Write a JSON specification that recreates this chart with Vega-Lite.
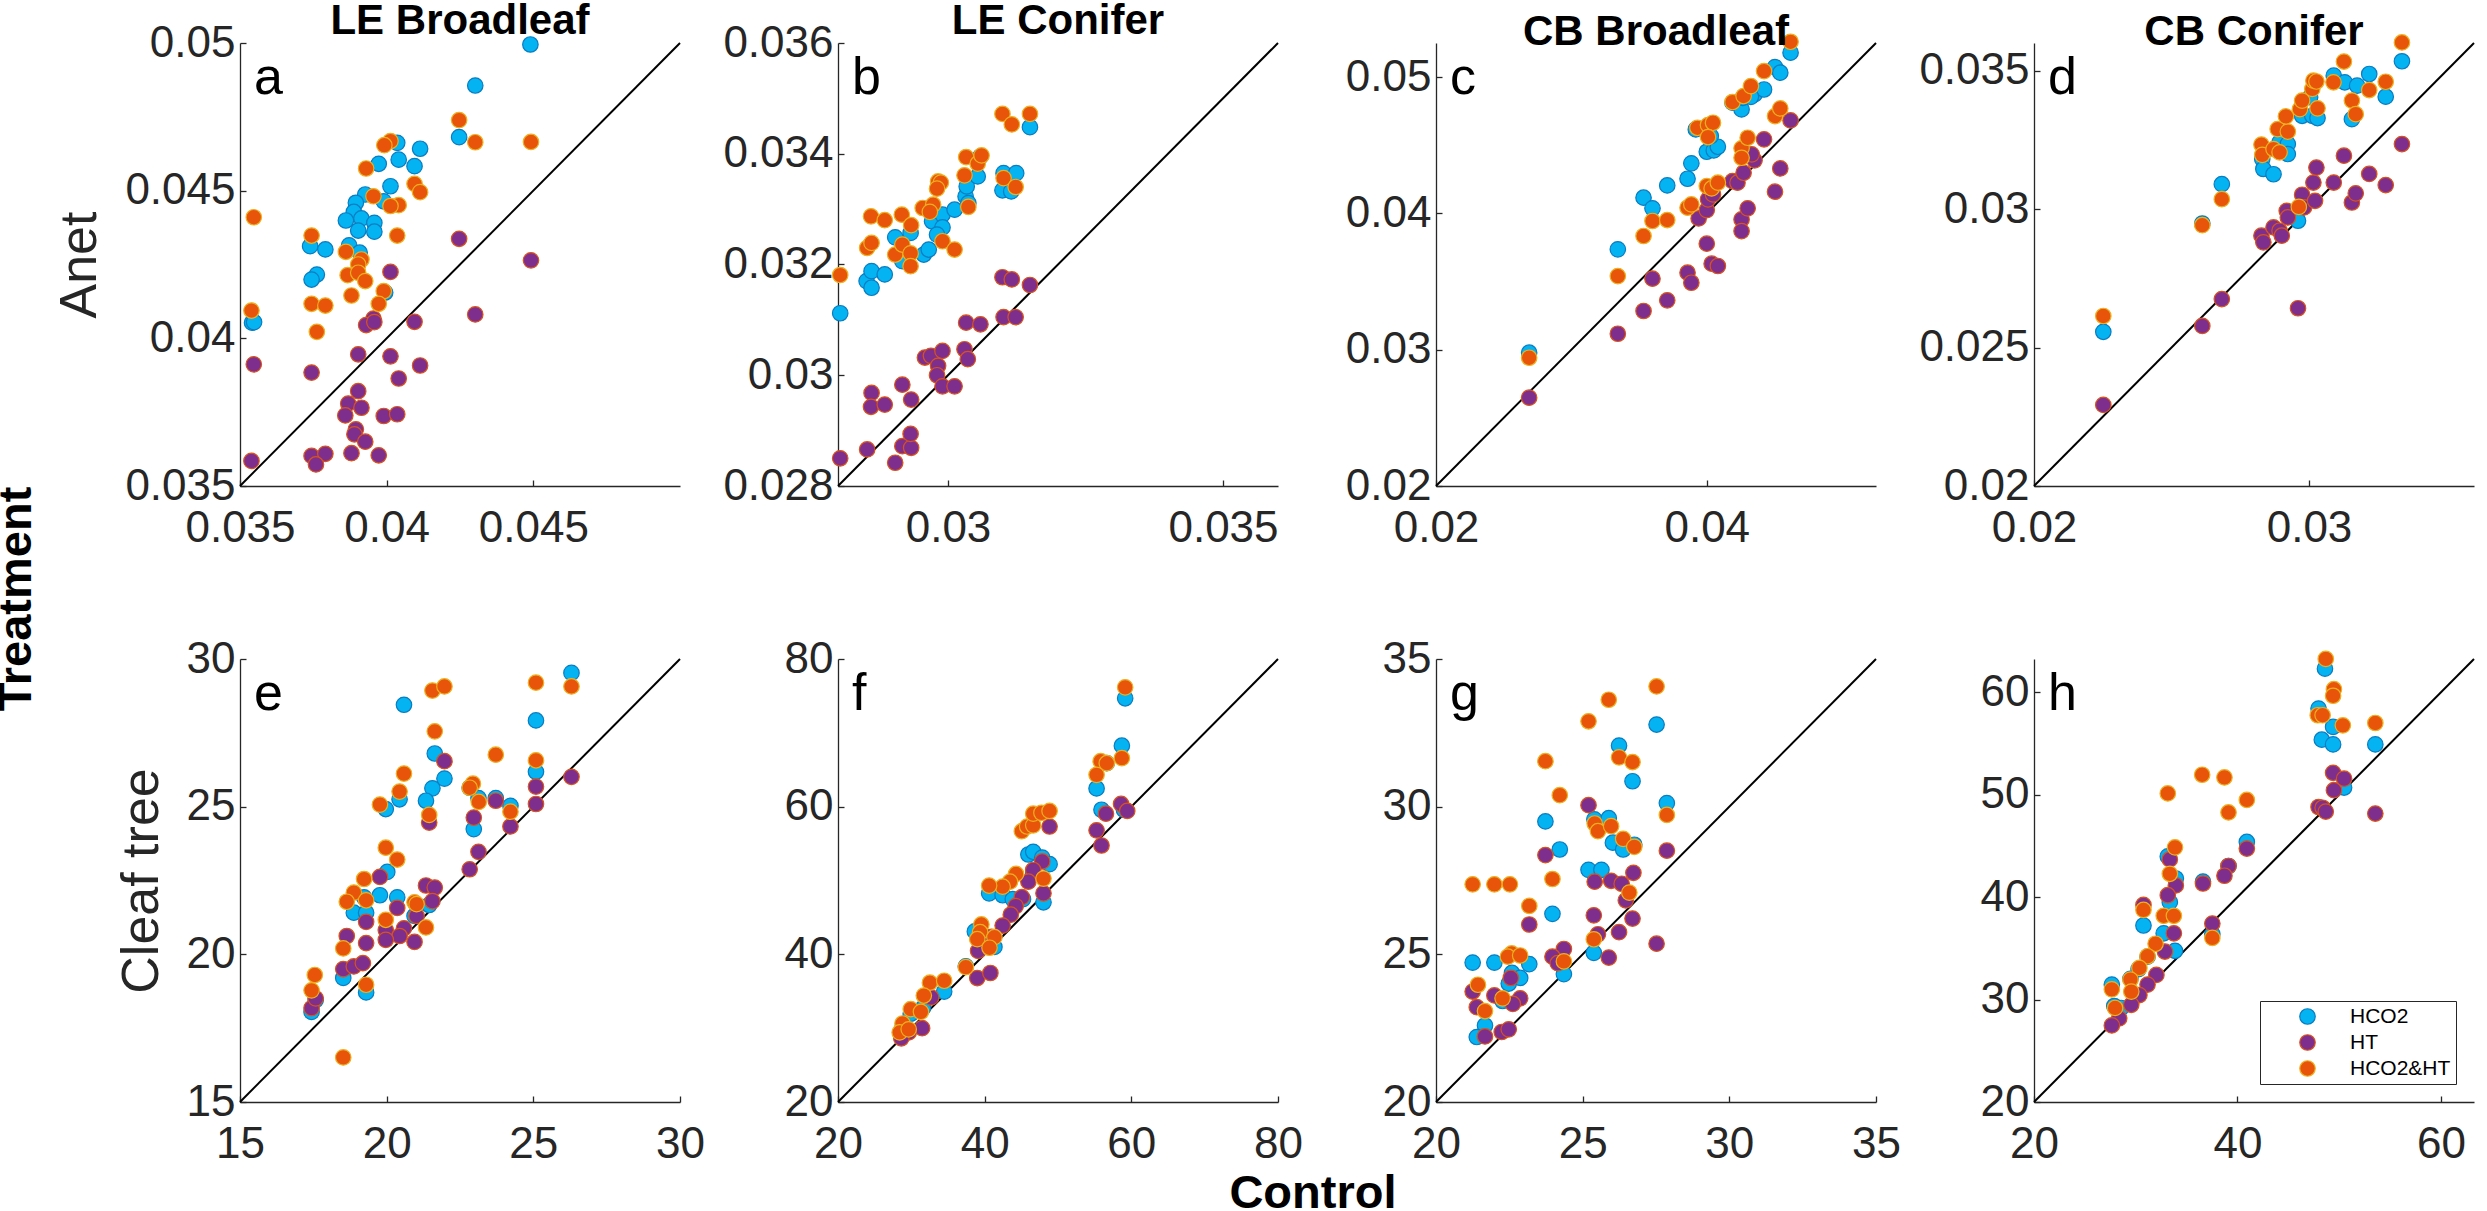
{
"$schema":"https://vega.github.io/schema/vega-lite/v6.json",
"background":"white",
"padding":{"left":-8,"top":0,"right":0,"bottom":0},
"config":{
 "view":{"stroke":null},
 "font":"Liberation Sans",
 "axis":{"grid":false,"domainColor":"#262626","domainWidth":1.3,"tickColor":"#262626","tickWidth":1.3,"tickSize":-6,"labelColor":"#262626","labelFontSize":44,"labelFlush":false,"labelOverlap":false,"labelBound":false,"titleFontSize":52,"titleFontWeight":"normal","titleColor":"#262626","titlePadding":18,"labelExpr":"'' + datum.value"},
 "axisY":{"labelPadding":11},
 "axisX":{"labelPadding":26},
 "title":{"fontSize":42,"fontWeight":"bold","color":"black","offset":-22,"frame":"group","font":"Liberation Sans"}
},
"datasets":{"pts":[
{"p":"a","g":"HCO2","x":0.0449,"y":0.04995},{"p":"a","g":"HCO2","x":0.04302,"y":0.04856},{"p":"a","g":"HCO2","x":0.04247,"y":0.04681},{"p":"a","g":"HCO2","x":0.04114,"y":0.04642},{"p":"a","g":"HCO2","x":0.04036,"y":0.04662},{"p":"a","g":"HCO2","x":0.04041,"y":0.04605},{"p":"a","g":"HCO2","x":0.04095,"y":0.04583},{"p":"a","g":"HCO2","x":0.03973,"y":0.04591},{"p":"a","g":"HCO2","x":0.04013,"y":0.04515},{"p":"a","g":"HCO2","x":0.0399,"y":0.04464},{"p":"a","g":"HCO2","x":0.03927,"y":0.04487},{"p":"a","g":"HCO2","x":0.03895,"y":0.04459},{"p":"a","g":"HCO2","x":0.03888,"y":0.04428},{"p":"a","g":"HCO2","x":0.03914,"y":0.04406},{"p":"a","g":"HCO2","x":0.03861,"y":0.04399},{"p":"a","g":"HCO2","x":0.03958,"y":0.04391},{"p":"a","g":"HCO2","x":0.03903,"y":0.04365},{"p":"a","g":"HCO2","x":0.03958,"y":0.04361},{"p":"a","g":"HCO2","x":0.03872,"y":0.04315},{"p":"a","g":"HCO2","x":0.03908,"y":0.0429},{"p":"a","g":"HCO2","x":0.03739,"y":0.04312},{"p":"a","g":"HCO2","x":0.03791,"y":0.04301},{"p":"a","g":"HCO2","x":0.03762,"y":0.04216},{"p":"a","g":"HCO2","x":0.03744,"y":0.04199},{"p":"a","g":"HCO2","x":0.03541,"y":0.04053},{"p":"a","g":"HCO2","x":0.03548,"y":0.04055},{"p":"a","g":"HCO2","x":0.03995,"y":0.04155},
{"p":"a","g":"HT","x":0.04247,"y":0.04337},{"p":"a","g":"HT","x":0.04492,"y":0.04264},{"p":"a","g":"HT","x":0.04013,"y":0.04225},{"p":"a","g":"HT","x":0.04302,"y":0.04081},{"p":"a","g":"HT","x":0.04095,"y":0.04056},{"p":"a","g":"HT","x":0.03955,"y":0.04067},{"p":"a","g":"HT","x":0.0393,"y":0.04045},{"p":"a","g":"HT","x":0.03958,"y":0.04055},{"p":"a","g":"HT","x":0.03903,"y":0.03946},{"p":"a","g":"HT","x":0.04013,"y":0.03939},{"p":"a","g":"HT","x":0.03547,"y":0.03912},{"p":"a","g":"HT","x":0.04114,"y":0.03908},{"p":"a","g":"HT","x":0.03744,"y":0.03884},{"p":"a","g":"HT","x":0.04041,"y":0.03864},{"p":"a","g":"HT","x":0.03903,"y":0.03821},{"p":"a","g":"HT","x":0.03869,"y":0.03779},{"p":"a","g":"HT","x":0.03914,"y":0.03765},{"p":"a","g":"HT","x":0.03859,"y":0.03739},{"p":"a","g":"HT","x":0.0399,"y":0.03737},{"p":"a","g":"HT","x":0.04036,"y":0.03743},{"p":"a","g":"HT","x":0.03895,"y":0.03692},{"p":"a","g":"HT","x":0.0389,"y":0.03675},{"p":"a","g":"HT","x":0.03927,"y":0.0365},{"p":"a","g":"HT","x":0.03539,"y":0.03585},{"p":"a","g":"HT","x":0.03744,"y":0.03602},{"p":"a","g":"HT","x":0.03791,"y":0.03609},{"p":"a","g":"HT","x":0.03759,"y":0.03573},{"p":"a","g":"HT","x":0.0388,"y":0.03611},{"p":"a","g":"HT","x":0.03973,"y":0.03604},
{"p":"a","g":"HCO2&HT","x":0.04247,"y":0.04739},{"p":"a","g":"HCO2&HT","x":0.04302,"y":0.04664},{"p":"a","g":"HCO2&HT","x":0.04492,"y":0.04665},{"p":"a","g":"HCO2&HT","x":0.04013,"y":0.04668},{"p":"a","g":"HCO2&HT","x":0.03992,"y":0.04654},{"p":"a","g":"HCO2&HT","x":0.0393,"y":0.04575},{"p":"a","g":"HCO2&HT","x":0.04095,"y":0.04523},{"p":"a","g":"HCO2&HT","x":0.04114,"y":0.04495},{"p":"a","g":"HCO2&HT","x":0.03955,"y":0.04481},{"p":"a","g":"HCO2&HT","x":0.04041,"y":0.04451},{"p":"a","g":"HCO2&HT","x":0.04013,"y":0.04448},{"p":"a","g":"HCO2&HT","x":0.03547,"y":0.0441},{"p":"a","g":"HCO2&HT","x":0.04036,"y":0.04348},{"p":"a","g":"HCO2&HT","x":0.03744,"y":0.04348},{"p":"a","g":"HCO2&HT","x":0.03861,"y":0.04293},{"p":"a","g":"HCO2&HT","x":0.03914,"y":0.04267},{"p":"a","g":"HCO2&HT","x":0.03903,"y":0.0425},{"p":"a","g":"HCO2&HT","x":0.03867,"y":0.04214},{"p":"a","g":"HCO2&HT","x":0.03903,"y":0.04222},{"p":"a","g":"HCO2&HT","x":0.03927,"y":0.04194},{"p":"a","g":"HCO2&HT","x":0.0399,"y":0.0416},{"p":"a","g":"HCO2&HT","x":0.0388,"y":0.04145},{"p":"a","g":"HCO2&HT","x":0.03973,"y":0.04117},{"p":"a","g":"HCO2&HT","x":0.03744,"y":0.04117},{"p":"a","g":"HCO2&HT","x":0.03791,"y":0.04111},{"p":"a","g":"HCO2&HT","x":0.03539,"y":0.04094},{"p":"a","g":"HCO2&HT","x":0.03762,"y":0.04022},
{"p":"b","g":"HCO2","x":0.02804,"y":0.03112},{"p":"b","g":"HCO2","x":0.02852,"y":0.0317},{"p":"b","g":"HCO2","x":0.02861,"y":0.03158},{"p":"b","g":"HCO2","x":0.02861,"y":0.03188},{"p":"b","g":"HCO2","x":0.02885,"y":0.03182},{"p":"b","g":"HCO2","x":0.02904,"y":0.03249},{"p":"b","g":"HCO2","x":0.02917,"y":0.03206},{"p":"b","g":"HCO2","x":0.02932,"y":0.03257},{"p":"b","g":"HCO2","x":0.02956,"y":0.03218},{"p":"b","g":"HCO2","x":0.02965,"y":0.03227},{"p":"b","g":"HCO2","x":0.02971,"y":0.03278},{"p":"b","g":"HCO2","x":0.0299,"y":0.0329},{"p":"b","g":"HCO2","x":0.0299,"y":0.03267},{"p":"b","g":"HCO2","x":0.0298,"y":0.03254},{"p":"b","g":"HCO2","x":0.03012,"y":0.03299},{"p":"b","g":"HCO2","x":0.03032,"y":0.03323},{"p":"b","g":"HCO2","x":0.03034,"y":0.03341},{"p":"b","g":"HCO2","x":0.03037,"y":0.03311},{"p":"b","g":"HCO2","x":0.03054,"y":0.03359},{"p":"b","g":"HCO2","x":0.03059,"y":0.03395},{"p":"b","g":"HCO2","x":0.03101,"y":0.03365},{"p":"b","g":"HCO2","x":0.03099,"y":0.03334},{"p":"b","g":"HCO2","x":0.03115,"y":0.03332},{"p":"b","g":"HCO2","x":0.03124,"y":0.03365},{"p":"b","g":"HCO2","x":0.03149,"y":0.03448},
{"p":"b","g":"HT","x":0.02804,"y":0.0285},{"p":"b","g":"HT","x":0.02853,"y":0.02866},{"p":"b","g":"HT","x":0.02904,"y":0.02842},{"p":"b","g":"HT","x":0.02917,"y":0.02872},{"p":"b","g":"HT","x":0.02933,"y":0.02869},{"p":"b","g":"HT","x":0.02932,"y":0.02894},{"p":"b","g":"HT","x":0.02861,"y":0.02968},{"p":"b","g":"HT","x":0.0286,"y":0.02943},{"p":"b","g":"HT","x":0.02885,"y":0.02947},{"p":"b","g":"HT","x":0.02917,"y":0.02983},{"p":"b","g":"HT","x":0.02933,"y":0.02956},{"p":"b","g":"HT","x":0.02958,"y":0.03032},{"p":"b","g":"HT","x":0.02969,"y":0.03035},{"p":"b","g":"HT","x":0.0299,"y":0.03044},{"p":"b","g":"HT","x":0.02982,"y":0.03017},{"p":"b","g":"HT","x":0.0298,"y":0.03},{"p":"b","g":"HT","x":0.0299,"y":0.0298},{"p":"b","g":"HT","x":0.03012,"y":0.0298},{"p":"b","g":"HT","x":0.0303,"y":0.03047},{"p":"b","g":"HT","x":0.03036,"y":0.03029},{"p":"b","g":"HT","x":0.03033,"y":0.03095},{"p":"b","g":"HT","x":0.03059,"y":0.03092},{"p":"b","g":"HT","x":0.03101,"y":0.03105},{"p":"b","g":"HT","x":0.03123,"y":0.03105},{"p":"b","g":"HT","x":0.03099,"y":0.03177},{"p":"b","g":"HT","x":0.03116,"y":0.03173},{"p":"b","g":"HT","x":0.03149,"y":0.03163},
{"p":"b","g":"HCO2&HT","x":0.02804,"y":0.03181},{"p":"b","g":"HCO2&HT","x":0.0286,"y":0.03287},{"p":"b","g":"HCO2&HT","x":0.02885,"y":0.0328},{"p":"b","g":"HCO2&HT","x":0.02916,"y":0.0329},{"p":"b","g":"HCO2&HT","x":0.02933,"y":0.03271},{"p":"b","g":"HCO2&HT","x":0.02853,"y":0.0323},{"p":"b","g":"HCO2&HT","x":0.02861,"y":0.03239},{"p":"b","g":"HCO2&HT","x":0.02904,"y":0.03218},{"p":"b","g":"HCO2&HT","x":0.02917,"y":0.03236},{"p":"b","g":"HCO2&HT","x":0.02932,"y":0.0322},{"p":"b","g":"HCO2&HT","x":0.02932,"y":0.03197},{"p":"b","g":"HCO2&HT","x":0.02954,"y":0.03302},{"p":"b","g":"HCO2&HT","x":0.02973,"y":0.03308},{"p":"b","g":"HCO2&HT","x":0.02967,"y":0.03295},{"p":"b","g":"HCO2&HT","x":0.02982,"y":0.0335},{"p":"b","g":"HCO2&HT","x":0.02987,"y":0.03348},{"p":"b","g":"HCO2&HT","x":0.0298,"y":0.03337},{"p":"b","g":"HCO2&HT","x":0.0299,"y":0.03242},{"p":"b","g":"HCO2&HT","x":0.03012,"y":0.03227},{"p":"b","g":"HCO2&HT","x":0.0303,"y":0.03361},{"p":"b","g":"HCO2&HT","x":0.03033,"y":0.03394},{"p":"b","g":"HCO2&HT","x":0.03054,"y":0.03382},{"p":"b","g":"HCO2&HT","x":0.03061,"y":0.03397},{"p":"b","g":"HCO2&HT","x":0.03037,"y":0.03304},{"p":"b","g":"HCO2&HT","x":0.03101,"y":0.03356},{"p":"b","g":"HCO2&HT","x":0.03123,"y":0.0334},{"p":"b","g":"HCO2&HT","x":0.03099,"y":0.03472},{"p":"b","g":"HCO2&HT","x":0.03116,"y":0.03453},{"p":"b","g":"HCO2&HT","x":0.03149,"y":0.03472},
{"p":"c","g":"HCO2","x":0.02688,"y":0.02978},{"p":"c","g":"HCO2","x":0.03343,"y":0.03736},{"p":"c","g":"HCO2","x":0.03533,"y":0.04115},{"p":"c","g":"HCO2","x":0.03599,"y":0.04037},{"p":"c","g":"HCO2","x":0.03708,"y":0.04205},{"p":"c","g":"HCO2","x":0.03858,"y":0.04254},{"p":"c","g":"HCO2","x":0.03886,"y":0.04367},{"p":"c","g":"HCO2","x":0.04,"y":0.04452},{"p":"c","g":"HCO2","x":0.04052,"y":0.04462},{"p":"c","g":"HCO2","x":0.04082,"y":0.04489},{"p":"c","g":"HCO2","x":0.0403,"y":0.04567},{"p":"c","g":"HCO2","x":0.03919,"y":0.04616},{"p":"c","g":"HCO2","x":0.0419,"y":0.04812},{"p":"c","g":"HCO2","x":0.04257,"y":0.04763},{"p":"c","g":"HCO2","x":0.04266,"y":0.04848},{"p":"c","g":"HCO2","x":0.04353,"y":0.04873},{"p":"c","g":"HCO2","x":0.04423,"y":0.04909},{"p":"c","g":"HCO2","x":0.04504,"y":0.05073},{"p":"c","g":"HCO2","x":0.04543,"y":0.05032},{"p":"c","g":"HCO2","x":0.04619,"y":0.05179},{"p":"c","g":"HCO2","x":0.04326,"y":0.04855},
{"p":"c","g":"HT","x":0.02688,"y":0.02648},{"p":"c","g":"HT","x":0.03343,"y":0.03117},{"p":"c","g":"HT","x":0.03533,"y":0.03284},{"p":"c","g":"HT","x":0.03599,"y":0.03521},{"p":"c","g":"HT","x":0.03708,"y":0.03362},{"p":"c","g":"HT","x":0.03858,"y":0.03565},{"p":"c","g":"HT","x":0.03886,"y":0.03491},{"p":"c","g":"HT","x":0.04,"y":0.03778},{"p":"c","g":"HT","x":0.04036,"y":0.03631},{"p":"c","g":"HT","x":0.04082,"y":0.03614},{"p":"c","g":"HT","x":0.0394,"y":0.03963},{"p":"c","g":"HT","x":0.04,"y":0.04024},{"p":"c","g":"HT","x":0.04009,"y":0.04103},{"p":"c","g":"HT","x":0.04046,"y":0.04139},{"p":"c","g":"HT","x":0.0419,"y":0.04237},{"p":"c","g":"HT","x":0.04227,"y":0.04225},{"p":"c","g":"HT","x":0.04272,"y":0.04298},{"p":"c","g":"HT","x":0.04353,"y":0.04389},{"p":"c","g":"HT","x":0.04332,"y":0.04433},{"p":"c","g":"HT","x":0.04423,"y":0.04543},{"p":"c","g":"HT","x":0.04619,"y":0.04682},{"p":"c","g":"HT","x":0.04257,"y":0.03956},{"p":"c","g":"HT","x":0.04257,"y":0.0387},{"p":"c","g":"HT","x":0.04302,"y":0.04037},{"p":"c","g":"HT","x":0.04504,"y":0.04159},{"p":"c","g":"HT","x":0.04543,"y":0.0433},
{"p":"c","g":"HCO2&HT","x":0.02688,"y":0.02941},{"p":"c","g":"HCO2&HT","x":0.03343,"y":0.0354},{"p":"c","g":"HCO2&HT","x":0.03533,"y":0.03834},{"p":"c","g":"HCO2&HT","x":0.03599,"y":0.03944},{"p":"c","g":"HCO2&HT","x":0.03708,"y":0.03951},{"p":"c","g":"HCO2&HT","x":0.03858,"y":0.04042},{"p":"c","g":"HCO2&HT","x":0.03886,"y":0.04066},{"p":"c","g":"HCO2&HT","x":0.04,"y":0.042},{"p":"c","g":"HCO2&HT","x":0.04036,"y":0.04183},{"p":"c","g":"HCO2&HT","x":0.04082,"y":0.04225},{"p":"c","g":"HCO2&HT","x":0.03931,"y":0.04628},{"p":"c","g":"HCO2&HT","x":0.04009,"y":0.04648},{"p":"c","g":"HCO2&HT","x":0.04046,"y":0.04665},{"p":"c","g":"HCO2&HT","x":0.04009,"y":0.0456},{"p":"c","g":"HCO2&HT","x":0.0419,"y":0.04817},{"p":"c","g":"HCO2&HT","x":0.04272,"y":0.04861},{"p":"c","g":"HCO2&HT","x":0.04326,"y":0.04934},{"p":"c","g":"HCO2&HT","x":0.04423,"y":0.05044},{"p":"c","g":"HCO2&HT","x":0.04257,"y":0.04477},{"p":"c","g":"HCO2&HT","x":0.04257,"y":0.04408},{"p":"c","g":"HCO2&HT","x":0.04302,"y":0.04555},{"p":"c","g":"HCO2&HT","x":0.04504,"y":0.04714},{"p":"c","g":"HCO2&HT","x":0.04543,"y":0.0477},{"p":"c","g":"HCO2&HT","x":0.04619,"y":0.05259},
{"p":"d","g":"HCO2","x":0.02252,"y":0.02557},{"p":"d","g":"HCO2","x":0.02612,"y":0.02948},{"p":"d","g":"HCO2","x":0.02683,"y":0.0309},{"p":"d","g":"HCO2","x":0.0283,"y":0.03181},{"p":"d","g":"HCO2","x":0.02834,"y":0.03145},{"p":"d","g":"HCO2","x":0.02871,"y":0.03126},{"p":"d","g":"HCO2","x":0.02893,"y":0.03241},{"p":"d","g":"HCO2","x":0.02923,"y":0.03235},{"p":"d","g":"HCO2","x":0.02923,"y":0.03199},{"p":"d","g":"HCO2","x":0.0296,"y":0.02958},{"p":"d","g":"HCO2","x":0.02975,"y":0.03337},{"p":"d","g":"HCO2","x":0.03004,"y":0.03404},{"p":"d","g":"HCO2","x":0.03012,"y":0.03337},{"p":"d","g":"HCO2","x":0.03031,"y":0.03329},{"p":"d","g":"HCO2","x":0.0309,"y":0.03482},{"p":"d","g":"HCO2","x":0.0313,"y":0.03458},{"p":"d","g":"HCO2","x":0.03156,"y":0.03325},{"p":"d","g":"HCO2","x":0.03175,"y":0.03446},{"p":"d","g":"HCO2","x":0.03219,"y":0.03488},{"p":"d","g":"HCO2","x":0.03279,"y":0.03406},{"p":"d","g":"HCO2","x":0.03338,"y":0.03534},
{"p":"d","g":"HT","x":0.02252,"y":0.02293},{"p":"d","g":"HT","x":0.02612,"y":0.02578},{"p":"d","g":"HT","x":0.02683,"y":0.02675},{"p":"d","g":"HT","x":0.0296,"y":0.02642},{"p":"d","g":"HT","x":0.02827,"y":0.02904},{"p":"d","g":"HT","x":0.02834,"y":0.0288},{"p":"d","g":"HT","x":0.02871,"y":0.02934},{"p":"d","g":"HT","x":0.02893,"y":0.02922},{"p":"d","g":"HT","x":0.02901,"y":0.02904},{"p":"d","g":"HT","x":0.02919,"y":0.02994},{"p":"d","g":"HT","x":0.02923,"y":0.0297},{"p":"d","g":"HT","x":0.02975,"y":0.03052},{"p":"d","g":"HT","x":0.02982,"y":0.03006},{"p":"d","g":"HT","x":0.03016,"y":0.03096},{"p":"d","g":"HT","x":0.03027,"y":0.0315},{"p":"d","g":"HT","x":0.03022,"y":0.0303},{"p":"d","g":"HT","x":0.0309,"y":0.03096},{"p":"d","g":"HT","x":0.03127,"y":0.03193},{"p":"d","g":"HT","x":0.03156,"y":0.03024},{"p":"d","g":"HT","x":0.0317,"y":0.03057},{"p":"d","g":"HT","x":0.03219,"y":0.03127},{"p":"d","g":"HT","x":0.03279,"y":0.03087},{"p":"d","g":"HT","x":0.03338,"y":0.03235},
{"p":"d","g":"HCO2&HT","x":0.02252,"y":0.02614},{"p":"d","g":"HCO2&HT","x":0.02612,"y":0.02942},{"p":"d","g":"HCO2&HT","x":0.02683,"y":0.03036},{"p":"d","g":"HCO2&HT","x":0.02827,"y":0.03233},{"p":"d","g":"HCO2&HT","x":0.0283,"y":0.03196},{"p":"d","g":"HCO2&HT","x":0.02871,"y":0.03217},{"p":"d","g":"HCO2&HT","x":0.02893,"y":0.03205},{"p":"d","g":"HCO2&HT","x":0.02886,"y":0.03289},{"p":"d","g":"HCO2&HT","x":0.02923,"y":0.0328},{"p":"d","g":"HCO2&HT","x":0.02916,"y":0.03335},{"p":"d","g":"HCO2&HT","x":0.02967,"y":0.03361},{"p":"d","g":"HCO2&HT","x":0.02975,"y":0.03392},{"p":"d","g":"HCO2&HT","x":0.03012,"y":0.03434},{"p":"d","g":"HCO2&HT","x":0.03016,"y":0.03464},{"p":"d","g":"HCO2&HT","x":0.03027,"y":0.03461},{"p":"d","g":"HCO2&HT","x":0.03031,"y":0.03364},{"p":"d","g":"HCO2&HT","x":0.02963,"y":0.03008},{"p":"d","g":"HCO2&HT","x":0.03089,"y":0.03458},{"p":"d","g":"HCO2&HT","x":0.03127,"y":0.03533},{"p":"d","g":"HCO2&HT","x":0.03156,"y":0.03392},{"p":"d","g":"HCO2&HT","x":0.0317,"y":0.03343},{"p":"d","g":"HCO2&HT","x":0.03219,"y":0.0343},{"p":"d","g":"HCO2&HT","x":0.03279,"y":0.0346},{"p":"d","g":"HCO2&HT","x":0.03338,"y":0.03602},
{"p":"e","g":"HCO2","x":26.3,"y":29.53},{"p":"e","g":"HCO2","x":20.59,"y":28.45},{"p":"e","g":"HCO2","x":25.09,"y":27.92},{"p":"e","g":"HCO2","x":21.64,"y":26.8},{"p":"e","g":"HCO2","x":21.97,"y":25.95},{"p":"e","g":"HCO2","x":21.56,"y":25.62},{"p":"e","g":"HCO2","x":21.34,"y":25.2},{"p":"e","g":"HCO2","x":20.44,"y":25.25},{"p":"e","g":"HCO2","x":19.97,"y":24.92},{"p":"e","g":"HCO2","x":25.09,"y":26.18},{"p":"e","g":"HCO2","x":23.13,"y":25.29},{"p":"e","g":"HCO2","x":22.83,"y":25.64},{"p":"e","g":"HCO2","x":23.72,"y":25.29},{"p":"e","g":"HCO2","x":24.22,"y":25.03},{"p":"e","g":"HCO2","x":22.97,"y":24.24},{"p":"e","g":"HCO2","x":20.02,"y":22.79},{"p":"e","g":"HCO2","x":19.77,"y":22.0},{"p":"e","g":"HCO2","x":20.36,"y":21.93},{"p":"e","g":"HCO2","x":19.23,"y":21.93},{"p":"e","g":"HCO2","x":18.88,"y":21.41},{"p":"e","g":"HCO2","x":19.3,"y":21.41},{"p":"e","g":"HCO2","x":20.95,"y":21.3},{"p":"e","g":"HCO2","x":21.45,"y":21.67},{"p":"e","g":"HCO2","x":18.52,"y":19.2},{"p":"e","g":"HCO2","x":19.3,"y":18.71},{"p":"e","g":"HCO2","x":17.44,"y":18.05},{"p":"e","g":"HCO2","x":17.58,"y":18.45},
{"p":"e","g":"HT","x":26.3,"y":26.01},{"p":"e","g":"HT","x":21.97,"y":26.54},{"p":"e","g":"HT","x":25.09,"y":25.68},{"p":"e","g":"HT","x":25.09,"y":25.09},{"p":"e","g":"HT","x":23.72,"y":25.2},{"p":"e","g":"HT","x":21.45,"y":24.46},{"p":"e","g":"HT","x":22.97,"y":24.63},{"p":"e","g":"HT","x":24.22,"y":24.33},{"p":"e","g":"HT","x":23.13,"y":23.47},{"p":"e","g":"HT","x":22.83,"y":22.88},{"p":"e","g":"HT","x":19.77,"y":22.62},{"p":"e","g":"HT","x":21.34,"y":22.33},{"p":"e","g":"HT","x":21.64,"y":22.26},{"p":"e","g":"HT","x":21.56,"y":21.8},{"p":"e","g":"HT","x":20.36,"y":21.57},{"p":"e","g":"HT","x":19.3,"y":21.1},{"p":"e","g":"HT","x":21.02,"y":21.3},{"p":"e","g":"HT","x":20.59,"y":20.88},{"p":"e","g":"HT","x":19.97,"y":20.82},{"p":"e","g":"HT","x":20.44,"y":20.62},{"p":"e","g":"HT","x":19.97,"y":20.49},{"p":"e","g":"HT","x":20.95,"y":20.42},{"p":"e","g":"HT","x":18.64,"y":20.62},{"p":"e","g":"HT","x":19.3,"y":20.38},{"p":"e","g":"HT","x":18.52,"y":19.5},{"p":"e","g":"HT","x":18.88,"y":19.59},{"p":"e","g":"HT","x":19.19,"y":19.7},{"p":"e","g":"HT","x":17.44,"y":18.18},{"p":"e","g":"HT","x":17.58,"y":18.51},
{"p":"e","g":"HCO2&HT","x":26.3,"y":29.07},{"p":"e","g":"HCO2&HT","x":25.09,"y":29.2},{"p":"e","g":"HCO2&HT","x":21.56,"y":28.93},{"p":"e","g":"HCO2&HT","x":21.97,"y":29.07},{"p":"e","g":"HCO2&HT","x":21.64,"y":27.55},{"p":"e","g":"HCO2&HT","x":23.72,"y":26.76},{"p":"e","g":"HCO2&HT","x":25.09,"y":26.57},{"p":"e","g":"HCO2&HT","x":20.59,"y":26.12},{"p":"e","g":"HCO2&HT","x":20.44,"y":25.51},{"p":"e","g":"HCO2&HT","x":19.77,"y":25.07},{"p":"e","g":"HCO2&HT","x":22.94,"y":25.78},{"p":"e","g":"HCO2&HT","x":22.83,"y":25.64},{"p":"e","g":"HCO2&HT","x":23.14,"y":25.16},{"p":"e","g":"HCO2&HT","x":24.22,"y":24.83},{"p":"e","g":"HCO2&HT","x":21.45,"y":24.72},{"p":"e","g":"HCO2&HT","x":19.97,"y":23.61},{"p":"e","g":"HCO2&HT","x":20.36,"y":23.21},{"p":"e","g":"HCO2&HT","x":19.23,"y":22.55},{"p":"e","g":"HCO2&HT","x":18.88,"y":22.09},{"p":"e","g":"HCO2&HT","x":18.64,"y":21.78},{"p":"e","g":"HCO2&HT","x":19.3,"y":21.83},{"p":"e","g":"HCO2&HT","x":20.95,"y":21.76},{"p":"e","g":"HCO2&HT","x":21.02,"y":21.7},{"p":"e","g":"HCO2&HT","x":19.97,"y":21.17},{"p":"e","g":"HCO2&HT","x":21.34,"y":20.91},{"p":"e","g":"HCO2&HT","x":18.52,"y":20.2},{"p":"e","g":"HCO2&HT","x":17.55,"y":19.3},{"p":"e","g":"HCO2&HT","x":17.44,"y":18.78},{"p":"e","g":"HCO2&HT","x":19.3,"y":18.97},{"p":"e","g":"HCO2&HT","x":18.52,"y":16.51},
{"p":"f","g":"HCO2","x":59.16,"y":74.68},{"p":"f","g":"HCO2","x":58.71,"y":68.26},{"p":"f","g":"HCO2","x":56.65,"y":65.89},{"p":"f","g":"HCO2","x":55.26,"y":62.47},{"p":"f","g":"HCO2","x":55.93,"y":59.58},{"p":"f","g":"HCO2","x":58.99,"y":59.58},{"p":"f","g":"HCO2","x":45.96,"y":53.52},{"p":"f","g":"HCO2","x":46.62,"y":53.89},{"p":"f","g":"HCO2","x":47.85,"y":53.1},{"p":"f","g":"HCO2","x":48.85,"y":52.21},{"p":"f","g":"HCO2","x":46.62,"y":50.89},{"p":"f","g":"HCO2","x":40.61,"y":48.26},{"p":"f","g":"HCO2","x":42.45,"y":48.0},{"p":"f","g":"HCO2","x":43.84,"y":47.47},{"p":"f","g":"HCO2","x":45.23,"y":47.47},{"p":"f","g":"HCO2","x":48.02,"y":47.05},{"p":"f","g":"HCO2","x":38.66,"y":43.1},{"p":"f","g":"HCO2","x":41.33,"y":41.0},{"p":"f","g":"HCO2","x":37.43,"y":38.37},{"p":"f","g":"HCO2","x":34.48,"y":34.95},{"p":"f","g":"HCO2","x":31.59,"y":32.74},{"p":"f","g":"HCO2","x":29.92,"y":31.95},{"p":"f","g":"HCO2","x":28.8,"y":30.1},
{"p":"f","g":"HT","x":58.6,"y":60.37},{"p":"f","g":"HT","x":59.44,"y":59.42},{"p":"f","g":"HT","x":56.54,"y":59.05},{"p":"f","g":"HT","x":55.26,"y":56.79},{"p":"f","g":"HT","x":55.93,"y":54.74},{"p":"f","g":"HT","x":48.85,"y":57.31},{"p":"f","g":"HT","x":47.85,"y":52.58},{"p":"f","g":"HT","x":46.62,"y":51.42},{"p":"f","g":"HT","x":45.96,"y":49.84},{"p":"f","g":"HT","x":48.02,"y":48.26},{"p":"f","g":"HT","x":45.07,"y":47.74},{"p":"f","g":"HT","x":44.23,"y":46.53},{"p":"f","g":"HT","x":43.56,"y":45.37},{"p":"f","g":"HT","x":42.45,"y":43.89},{"p":"f","g":"HT","x":40.94,"y":42.37},{"p":"f","g":"HT","x":39.1,"y":40.47},{"p":"f","g":"HT","x":38.99,"y":36.79},{"p":"f","g":"HT","x":40.78,"y":37.47},{"p":"f","g":"HT","x":32.7,"y":34.16},{"p":"f","g":"HT","x":31.47,"y":30.0},{"p":"f","g":"HT","x":29.64,"y":29.42},{"p":"f","g":"HT","x":28.63,"y":28.63},
{"p":"f","g":"HCO2&HT","x":59.16,"y":76.16},{"p":"f","g":"HCO2&HT","x":58.71,"y":66.58},{"p":"f","g":"HCO2&HT","x":55.82,"y":66.16},{"p":"f","g":"HCO2&HT","x":56.65,"y":65.89},{"p":"f","g":"HCO2&HT","x":55.26,"y":64.31},{"p":"f","g":"HCO2&HT","x":45.07,"y":56.68},{"p":"f","g":"HCO2&HT","x":45.79,"y":57.31},{"p":"f","g":"HCO2&HT","x":46.62,"y":57.47},{"p":"f","g":"HCO2&HT","x":46.62,"y":59.05},{"p":"f","g":"HCO2&HT","x":47.74,"y":59.16},{"p":"f","g":"HCO2&HT","x":48.85,"y":59.42},{"p":"f","g":"HCO2&HT","x":44.28,"y":50.89},{"p":"f","g":"HCO2&HT","x":43.45,"y":49.84},{"p":"f","g":"HCO2&HT","x":42.45,"y":49.16},{"p":"f","g":"HCO2&HT","x":40.61,"y":49.31},{"p":"f","g":"HCO2&HT","x":48.02,"y":50.26},{"p":"f","g":"HCO2&HT","x":39.55,"y":44.05},{"p":"f","g":"HCO2&HT","x":39.38,"y":43.0},{"p":"f","g":"HCO2&HT","x":38.99,"y":42.05},{"p":"f","g":"HCO2&HT","x":41.33,"y":42.32},{"p":"f","g":"HCO2&HT","x":40.66,"y":40.89},{"p":"f","g":"HCO2&HT","x":37.43,"y":38.26},{"p":"f","g":"HCO2&HT","x":32.53,"y":36.16},{"p":"f","g":"HCO2&HT","x":34.48,"y":36.42},{"p":"f","g":"HCO2&HT","x":31.7,"y":34.42},{"p":"f","g":"HCO2&HT","x":29.92,"y":32.58},{"p":"f","g":"HCO2&HT","x":31.31,"y":32.21},{"p":"f","g":"HCO2&HT","x":28.8,"y":30.63},{"p":"f","g":"HCO2&HT","x":28.41,"y":29.42},{"p":"f","g":"HCO2&HT","x":29.64,"y":29.84},
{"p":"g","g":"HCO2","x":27.52,"y":32.78},{"p":"g","g":"HCO2","x":26.24,"y":32.07},{"p":"g","g":"HCO2","x":26.7,"y":30.86},{"p":"g","g":"HCO2","x":27.87,"y":30.12},{"p":"g","g":"HCO2","x":23.73,"y":29.5},{"p":"g","g":"HCO2","x":24.22,"y":28.55},{"p":"g","g":"HCO2","x":25.4,"y":29.57},{"p":"g","g":"HCO2","x":25.89,"y":29.61},{"p":"g","g":"HCO2","x":26.03,"y":28.78},{"p":"g","g":"HCO2","x":26.38,"y":28.55},{"p":"g","g":"HCO2","x":26.76,"y":28.71},{"p":"g","g":"HCO2","x":25.2,"y":27.86},{"p":"g","g":"HCO2","x":25.64,"y":27.86},{"p":"g","g":"HCO2","x":23.97,"y":26.37},{"p":"g","g":"HCO2","x":21.25,"y":24.72},{"p":"g","g":"HCO2","x":21.99,"y":24.72},{"p":"g","g":"HCO2","x":23.18,"y":24.67},{"p":"g","g":"HCO2","x":22.59,"y":24.37},{"p":"g","g":"HCO2","x":22.87,"y":24.2},{"p":"g","g":"HCO2","x":22.48,"y":24.01},{"p":"g","g":"HCO2","x":22.27,"y":23.42},{"p":"g","g":"HCO2","x":21.67,"y":22.59},{"p":"g","g":"HCO2","x":21.39,"y":22.2},{"p":"g","g":"HCO2","x":24.36,"y":24.33},{"p":"g","g":"HCO2","x":25.38,"y":25.05},
{"p":"g","g":"HT","x":25.2,"y":30.05},{"p":"g","g":"HT","x":23.73,"y":28.36},{"p":"g","g":"HT","x":27.87,"y":28.51},{"p":"g","g":"HT","x":26.73,"y":27.76},{"p":"g","g":"HT","x":25.41,"y":27.46},{"p":"g","g":"HT","x":25.97,"y":27.49},{"p":"g","g":"HT","x":26.33,"y":27.39},{"p":"g","g":"HT","x":26.47,"y":26.83},{"p":"g","g":"HT","x":23.18,"y":26.01},{"p":"g","g":"HT","x":25.38,"y":26.32},{"p":"g","g":"HT","x":26.7,"y":26.21},{"p":"g","g":"HT","x":26.24,"y":25.75},{"p":"g","g":"HT","x":25.52,"y":25.68},{"p":"g","g":"HT","x":27.52,"y":25.36},{"p":"g","g":"HT","x":24.36,"y":25.18},{"p":"g","g":"HT","x":23.97,"y":24.92},{"p":"g","g":"HT","x":24.15,"y":24.7},{"p":"g","g":"HT","x":25.89,"y":24.89},{"p":"g","g":"HT","x":22.55,"y":24.2},{"p":"g","g":"HT","x":21.25,"y":23.74},{"p":"g","g":"HT","x":21.99,"y":23.61},{"p":"g","g":"HT","x":22.87,"y":23.51},{"p":"g","g":"HT","x":22.62,"y":23.32},{"p":"g","g":"HT","x":21.39,"y":23.21},{"p":"g","g":"HT","x":22.24,"y":22.37},{"p":"g","g":"HT","x":22.48,"y":22.46},{"p":"g","g":"HT","x":21.67,"y":22.22},
{"p":"g","g":"HCO2&HT","x":27.52,"y":34.07},{"p":"g","g":"HCO2&HT","x":25.89,"y":33.62},{"p":"g","g":"HCO2&HT","x":25.2,"y":32.89},{"p":"g","g":"HCO2&HT","x":23.73,"y":31.54},{"p":"g","g":"HCO2&HT","x":26.24,"y":31.67},{"p":"g","g":"HCO2&HT","x":26.7,"y":31.51},{"p":"g","g":"HCO2&HT","x":24.22,"y":30.39},{"p":"g","g":"HCO2&HT","x":27.87,"y":29.72},{"p":"g","g":"HCO2&HT","x":25.41,"y":29.43},{"p":"g","g":"HCO2&HT","x":25.52,"y":29.17},{"p":"g","g":"HCO2&HT","x":25.97,"y":29.34},{"p":"g","g":"HCO2&HT","x":26.38,"y":28.91},{"p":"g","g":"HCO2&HT","x":26.76,"y":28.64},{"p":"g","g":"HCO2&HT","x":23.97,"y":27.55},{"p":"g","g":"HCO2&HT","x":26.59,"y":27.09},{"p":"g","g":"HCO2&HT","x":21.25,"y":27.37},{"p":"g","g":"HCO2&HT","x":21.99,"y":27.37},{"p":"g","g":"HCO2&HT","x":22.52,"y":27.37},{"p":"g","g":"HCO2&HT","x":23.18,"y":26.64},{"p":"g","g":"HCO2&HT","x":22.58,"y":25.03},{"p":"g","g":"HCO2&HT","x":22.45,"y":24.92},{"p":"g","g":"HCO2&HT","x":22.87,"y":24.96},{"p":"g","g":"HCO2&HT","x":24.36,"y":24.76},{"p":"g","g":"HCO2&HT","x":25.38,"y":25.51},{"p":"g","g":"HCO2&HT","x":21.43,"y":23.97},{"p":"g","g":"HCO2&HT","x":22.27,"y":23.51},{"p":"g","g":"HCO2&HT","x":21.67,"y":23.08},
{"p":"h","g":"HCO2","x":48.6,"y":62.31},{"p":"h","g":"HCO2","x":47.97,"y":58.41},{"p":"h","g":"HCO2","x":48.29,"y":55.37},{"p":"h","g":"HCO2","x":49.4,"y":56.62},{"p":"h","g":"HCO2","x":49.4,"y":54.91},{"p":"h","g":"HCO2","x":53.55,"y":54.91},{"p":"h","g":"HCO2","x":50.48,"y":50.7},{"p":"h","g":"HCO2","x":40.92,"y":45.39},{"p":"h","g":"HCO2","x":39.12,"y":43.04},{"p":"h","g":"HCO2","x":36.61,"y":41.52},{"p":"h","g":"HCO2","x":33.94,"y":41.82},{"p":"h","g":"HCO2","x":33.15,"y":43.98},{"p":"h","g":"HCO2","x":33.35,"y":39.51},{"p":"h","g":"HCO2","x":30.76,"y":37.23},{"p":"h","g":"HCO2","x":32.75,"y":36.47},{"p":"h","g":"HCO2","x":33.86,"y":34.76},{"p":"h","g":"HCO2","x":37.53,"y":36.39},{"p":"h","g":"HCO2","x":31.16,"y":34.19},{"p":"h","g":"HCO2","x":30.28,"y":32.98},{"p":"h","g":"HCO2","x":29.48,"y":32.03},{"p":"h","g":"HCO2","x":27.65,"y":31.46},{"p":"h","g":"HCO2","x":27.89,"y":29.37},{"p":"h","g":"HCO2","x":28.57,"y":29.18},
{"p":"h","g":"HT","x":49.4,"y":52.14},{"p":"h","g":"HT","x":50.48,"y":51.57},{"p":"h","g":"HT","x":49.48,"y":50.44},{"p":"h","g":"HT","x":47.97,"y":48.8},{"p":"h","g":"HT","x":48.37,"y":48.73},{"p":"h","g":"HT","x":48.68,"y":48.35},{"p":"h","g":"HT","x":53.55,"y":48.16},{"p":"h","g":"HT","x":40.92,"y":44.74},{"p":"h","g":"HT","x":39.12,"y":43.04},{"p":"h","g":"HT","x":38.72,"y":42.09},{"p":"h","g":"HT","x":36.61,"y":41.33},{"p":"h","g":"HT","x":33.35,"y":43.68},{"p":"h","g":"HT","x":33.94,"y":41.14},{"p":"h","g":"HT","x":33.15,"y":40.19},{"p":"h","g":"HT","x":30.76,"y":39.24},{"p":"h","g":"HT","x":33.75,"y":36.47},{"p":"h","g":"HT","x":37.53,"y":37.42},{"p":"h","g":"HT","x":32.87,"y":34.69},{"p":"h","g":"HT","x":32.03,"y":32.41},{"p":"h","g":"HT","x":31.16,"y":31.46},{"p":"h","g":"HT","x":30.36,"y":30.44},{"p":"h","g":"HT","x":29.56,"y":29.49},{"p":"h","g":"HT","x":28.37,"y":28.16},{"p":"h","g":"HT","x":27.65,"y":27.48},
{"p":"h","g":"HCO2&HT","x":48.68,"y":63.26},{"p":"h","g":"HCO2&HT","x":49.48,"y":60.3},{"p":"h","g":"HCO2&HT","x":49.4,"y":59.66},{"p":"h","g":"HCO2&HT","x":47.89,"y":57.76},{"p":"h","g":"HCO2&HT","x":48.37,"y":57.76},{"p":"h","g":"HCO2&HT","x":50.36,"y":56.77},{"p":"h","g":"HCO2&HT","x":53.55,"y":57.0},{"p":"h","g":"HCO2&HT","x":36.53,"y":51.95},{"p":"h","g":"HCO2&HT","x":38.72,"y":51.69},{"p":"h","g":"HCO2&HT","x":33.15,"y":50.13},{"p":"h","g":"HCO2&HT","x":40.92,"y":49.49},{"p":"h","g":"HCO2&HT","x":39.12,"y":48.27},{"p":"h","g":"HCO2&HT","x":33.86,"y":44.86},{"p":"h","g":"HCO2&HT","x":33.35,"y":42.28},{"p":"h","g":"HCO2&HT","x":30.76,"y":38.75},{"p":"h","g":"HCO2&HT","x":32.75,"y":38.18},{"p":"h","g":"HCO2&HT","x":33.75,"y":38.18},{"p":"h","g":"HCO2&HT","x":37.53,"y":36.02},{"p":"h","g":"HCO2&HT","x":31.95,"y":35.45},{"p":"h","g":"HCO2&HT","x":31.16,"y":34.23},{"p":"h","g":"HCO2&HT","x":30.36,"y":33.09},{"p":"h","g":"HCO2&HT","x":29.48,"y":31.95},{"p":"h","g":"HCO2&HT","x":29.56,"y":30.78},{"p":"h","g":"HCO2&HT","x":27.65,"y":31.0},{"p":"h","g":"HCO2&HT","x":27.97,"y":29.18}
]},
"title":{"text":"Control","orient":"bottom","fontSize":47,"fontWeight":"bold","color":"black","dx":79,"offset":5,"anchor":"middle","frame":"bounds"},
"resolve":{"legend":{"fill":"independent","stroke":"independent"}},
"vconcat":[{
 "title":{"text":"Treatment","orient":"left","fontSize":47,"fontWeight":"bold","color":"black","offset":13,"anchor":"middle","dx":-16,"frame":"bounds"},
 "bounds":"flush",
 "columns":4,
 "spacing":{"row":173,"column":158},
 "resolve":{"legend":{"fill":"independent","stroke":"independent"},"scale":{"x":"independent","y":"independent"}},
 "concat":[
   {"width":440,"height":443,"title":"LE Broadleaf",
    "encoding":{"x":{"field":"x","type":"quantitative","scale":{"domain":[0.035,0.05],"nice":false,"zero":false},"axis":{"values":[0.035,0.04,0.045],"title":null}},
                "y":{"field":"y","type":"quantitative","scale":{"domain":[0.035,0.05],"nice":false,"zero":false},"axis":{"values":[0.035,0.04,0.045,0.05],"title":"Anet"}}},
    "layer":[
     {"data":{"values":[{"x":0.035,"y":0.035,"x2":0.05,"y2":0.05}]},"mark":{"type":"rule","color":"black","strokeWidth":2},"encoding":{"x2":{"field":"x2"},"y2":{"field":"y2"}}},
     {"data":{"name":"pts"},"transform":[{"filter":"datum.p==='a'"}],"mark":{"type":"circle","size":240,"opacity":1,"strokeWidth":1.2},
      "encoding":{"fill":{"field":"g","type":"nominal","scale":{"domain":["HCO2","HT","HCO2&HT"],"range":["#03B3F2","#7E2F8E","#E8550A"]},"legend":null},"stroke":{"field":"g","type":"nominal","scale":{"domain":["HCO2","HT","HCO2&HT"],"range":["#0A7CC0","#D95319","#EDB120"]},"legend":null}}},
     {"data":{"values":[{"t":"a","x":0.035,"y":0.05}]},"mark":{"type":"text","align":"left","baseline":"alphabetic","dx":14,"dy":51,"fontSize":52,"color":"black"},"encoding":{"text":{"field":"t"}}}
    ]},
   {"width":440,"height":443,"title":"LE Conifer",
    "encoding":{"x":{"field":"x","type":"quantitative","scale":{"domain":[0.028,0.036],"nice":false,"zero":false},"axis":{"values":[0.03,0.035],"title":null}},
                "y":{"field":"y","type":"quantitative","scale":{"domain":[0.028,0.036],"nice":false,"zero":false},"axis":{"values":[0.028,0.03,0.032,0.034,0.036],"title":null}}},
    "layer":[
     {"data":{"values":[{"x":0.028,"y":0.028,"x2":0.036,"y2":0.036}]},"mark":{"type":"rule","color":"black","strokeWidth":2},"encoding":{"x2":{"field":"x2"},"y2":{"field":"y2"}}},
     {"data":{"name":"pts"},"transform":[{"filter":"datum.p==='b'"}],"mark":{"type":"circle","size":240,"opacity":1,"strokeWidth":1.2},
      "encoding":{"fill":{"field":"g","type":"nominal","scale":{"domain":["HCO2","HT","HCO2&HT"],"range":["#03B3F2","#7E2F8E","#E8550A"]},"legend":null},"stroke":{"field":"g","type":"nominal","scale":{"domain":["HCO2","HT","HCO2&HT"],"range":["#0A7CC0","#D95319","#EDB120"]},"legend":null}}},
     {"data":{"values":[{"t":"b","x":0.028,"y":0.036}]},"mark":{"type":"text","align":"left","baseline":"alphabetic","dx":14,"dy":51,"fontSize":52,"color":"black"},"encoding":{"text":{"field":"t"}}}
    ]},
   {"width":440,"height":443,"title":"CB Broadleaf",
    "encoding":{"x":{"field":"x","type":"quantitative","scale":{"domain":[0.02,0.0525],"nice":false,"zero":false},"axis":{"values":[0.02,0.04],"title":null}},
                "y":{"field":"y","type":"quantitative","scale":{"domain":[0.02,0.0525],"nice":false,"zero":false},"axis":{"values":[0.02,0.03,0.04,0.05],"title":null}}},
    "layer":[
     {"data":{"values":[{"x":0.02,"y":0.02,"x2":0.0525,"y2":0.0525}]},"mark":{"type":"rule","color":"black","strokeWidth":2},"encoding":{"x2":{"field":"x2"},"y2":{"field":"y2"}}},
     {"data":{"name":"pts"},"transform":[{"filter":"datum.p==='c'"}],"mark":{"type":"circle","size":240,"opacity":1,"strokeWidth":1.2},
      "encoding":{"fill":{"field":"g","type":"nominal","scale":{"domain":["HCO2","HT","HCO2&HT"],"range":["#03B3F2","#7E2F8E","#E8550A"]},"legend":null},"stroke":{"field":"g","type":"nominal","scale":{"domain":["HCO2","HT","HCO2&HT"],"range":["#0A7CC0","#D95319","#EDB120"]},"legend":null}}},
     {"data":{"values":[{"t":"c","x":0.02,"y":0.0525}]},"mark":{"type":"text","align":"left","baseline":"alphabetic","dx":14,"dy":51,"fontSize":52,"color":"black"},"encoding":{"text":{"field":"t"}}}
    ]},
   {"width":440,"height":443,"title":"CB Conifer",
    "encoding":{"x":{"field":"x","type":"quantitative","scale":{"domain":[0.02,0.036],"nice":false,"zero":false},"axis":{"values":[0.02,0.03],"title":null}},
                "y":{"field":"y","type":"quantitative","scale":{"domain":[0.02,0.036],"nice":false,"zero":false},"axis":{"values":[0.02,0.025,0.03,0.035],"title":null}}},
    "layer":[
     {"data":{"values":[{"x":0.02,"y":0.02,"x2":0.036,"y2":0.036}]},"mark":{"type":"rule","color":"black","strokeWidth":2},"encoding":{"x2":{"field":"x2"},"y2":{"field":"y2"}}},
     {"data":{"name":"pts"},"transform":[{"filter":"datum.p==='d'"}],"mark":{"type":"circle","size":240,"opacity":1,"strokeWidth":1.2},
      "encoding":{"fill":{"field":"g","type":"nominal","scale":{"domain":["HCO2","HT","HCO2&HT"],"range":["#03B3F2","#7E2F8E","#E8550A"]},"legend":null},"stroke":{"field":"g","type":"nominal","scale":{"domain":["HCO2","HT","HCO2&HT"],"range":["#0A7CC0","#D95319","#EDB120"]},"legend":null}}},
     {"data":{"values":[{"t":"d","x":0.02,"y":0.036}]},"mark":{"type":"text","align":"left","baseline":"alphabetic","dx":14,"dy":51,"fontSize":52,"color":"black"},"encoding":{"text":{"field":"t"}}}
    ]},
   {"width":440,"height":443,
    "encoding":{"x":{"field":"x","type":"quantitative","scale":{"domain":[15,30],"nice":false,"zero":false},"axis":{"values":[15,20,25,30],"title":null}},
                "y":{"field":"y","type":"quantitative","scale":{"domain":[15,30],"nice":false,"zero":false},"axis":{"values":[15,20,25,30],"title":"Cleaf tree"}}},
    "layer":[
     {"data":{"values":[{"x":15,"y":15,"x2":30,"y2":30}]},"mark":{"type":"rule","color":"black","strokeWidth":2},"encoding":{"x2":{"field":"x2"},"y2":{"field":"y2"}}},
     {"data":{"name":"pts"},"transform":[{"filter":"datum.p==='e'"}],"mark":{"type":"circle","size":240,"opacity":1,"strokeWidth":1.2},
      "encoding":{"fill":{"field":"g","type":"nominal","scale":{"domain":["HCO2","HT","HCO2&HT"],"range":["#03B3F2","#7E2F8E","#E8550A"]},"legend":null},"stroke":{"field":"g","type":"nominal","scale":{"domain":["HCO2","HT","HCO2&HT"],"range":["#0A7CC0","#D95319","#EDB120"]},"legend":null}}},
     {"data":{"values":[{"t":"e","x":15,"y":30}]},"mark":{"type":"text","align":"left","baseline":"alphabetic","dx":14,"dy":51,"fontSize":52,"color":"black"},"encoding":{"text":{"field":"t"}}}
    ]},
   {"width":440,"height":443,
    "encoding":{"x":{"field":"x","type":"quantitative","scale":{"domain":[20,80],"nice":false,"zero":false},"axis":{"values":[20,40,60,80],"title":null}},
                "y":{"field":"y","type":"quantitative","scale":{"domain":[20,80],"nice":false,"zero":false},"axis":{"values":[20,40,60,80],"title":null}}},
    "layer":[
     {"data":{"values":[{"x":20,"y":20,"x2":80,"y2":80}]},"mark":{"type":"rule","color":"black","strokeWidth":2},"encoding":{"x2":{"field":"x2"},"y2":{"field":"y2"}}},
     {"data":{"name":"pts"},"transform":[{"filter":"datum.p==='f'"}],"mark":{"type":"circle","size":240,"opacity":1,"strokeWidth":1.2},
      "encoding":{"fill":{"field":"g","type":"nominal","scale":{"domain":["HCO2","HT","HCO2&HT"],"range":["#03B3F2","#7E2F8E","#E8550A"]},"legend":null},"stroke":{"field":"g","type":"nominal","scale":{"domain":["HCO2","HT","HCO2&HT"],"range":["#0A7CC0","#D95319","#EDB120"]},"legend":null}}},
     {"data":{"values":[{"t":"f","x":20,"y":80}]},"mark":{"type":"text","align":"left","baseline":"alphabetic","dx":14,"dy":51,"fontSize":52,"color":"black"},"encoding":{"text":{"field":"t"}}}
    ]},
   {"width":440,"height":443,
    "encoding":{"x":{"field":"x","type":"quantitative","scale":{"domain":[20,35],"nice":false,"zero":false},"axis":{"values":[20,25,30,35],"title":null}},
                "y":{"field":"y","type":"quantitative","scale":{"domain":[20,35],"nice":false,"zero":false},"axis":{"values":[20,25,30,35],"title":null}}},
    "layer":[
     {"data":{"values":[{"x":20,"y":20,"x2":35,"y2":35}]},"mark":{"type":"rule","color":"black","strokeWidth":2},"encoding":{"x2":{"field":"x2"},"y2":{"field":"y2"}}},
     {"data":{"name":"pts"},"transform":[{"filter":"datum.p==='g'"}],"mark":{"type":"circle","size":240,"opacity":1,"strokeWidth":1.2},
      "encoding":{"fill":{"field":"g","type":"nominal","scale":{"domain":["HCO2","HT","HCO2&HT"],"range":["#03B3F2","#7E2F8E","#E8550A"]},"legend":null},"stroke":{"field":"g","type":"nominal","scale":{"domain":["HCO2","HT","HCO2&HT"],"range":["#0A7CC0","#D95319","#EDB120"]},"legend":null}}},
     {"data":{"values":[{"t":"g","x":20,"y":35}]},"mark":{"type":"text","align":"left","baseline":"alphabetic","dx":14,"dy":51,"fontSize":52,"color":"black"},"encoding":{"text":{"field":"t"}}}
    ]},
   {"width":440,"height":443,
    "encoding":{"x":{"field":"x","type":"quantitative","scale":{"domain":[20,63.25],"nice":false,"zero":false},"axis":{"values":[20,40,60],"title":null}},
                "y":{"field":"y","type":"quantitative","scale":{"domain":[20,63.25],"nice":false,"zero":false},"axis":{"values":[20,30,40,50,60],"title":null}}},
    "layer":[
     {"data":{"values":[{"x":20,"y":20,"x2":63.25,"y2":63.25}]},"mark":{"type":"rule","color":"black","strokeWidth":2},"encoding":{"x2":{"field":"x2"},"y2":{"field":"y2"}}},
     {"data":{"name":"pts"},"transform":[{"filter":"datum.p==='h'"}],"mark":{"type":"circle","size":240,"opacity":1,"strokeWidth":1.2},
      "encoding":{"fill":{"field":"g","type":"nominal","scale":{"domain":["HCO2","HT","HCO2&HT"],"range":["#03B3F2","#7E2F8E","#E8550A"]},"legend":{"title":null,"orient":"bottom-right","offset":18,"padding":5,"strokeColor":"#262626","fillColor":"white","symbolSize":240,"symbolStrokeWidth":1.2,"symbolType":"circle","symbolOffset":32,"labelOffset":32,"labelFontSize":21,"labelColor":"black","rowPadding":4}},
                  "stroke":{"field":"g","type":"nominal","scale":{"domain":["HCO2","HT","HCO2&HT"],"range":["#0A7CC0","#D95319","#EDB120"]},"legend":{"title":null,"orient":"bottom-right","offset":18,"padding":5,"strokeColor":"#262626","fillColor":"white","symbolSize":240,"symbolStrokeWidth":1.2,"symbolType":"circle","symbolOffset":32,"labelOffset":32,"labelFontSize":21,"labelColor":"black","rowPadding":4}}}},
     {"data":{"values":[{"t":"h","x":20,"y":63.25}]},"mark":{"type":"text","align":"left","baseline":"alphabetic","dx":14,"dy":51,"fontSize":52,"color":"black"},"encoding":{"text":{"field":"t"}}}
    ]}
 ]
}]
}
